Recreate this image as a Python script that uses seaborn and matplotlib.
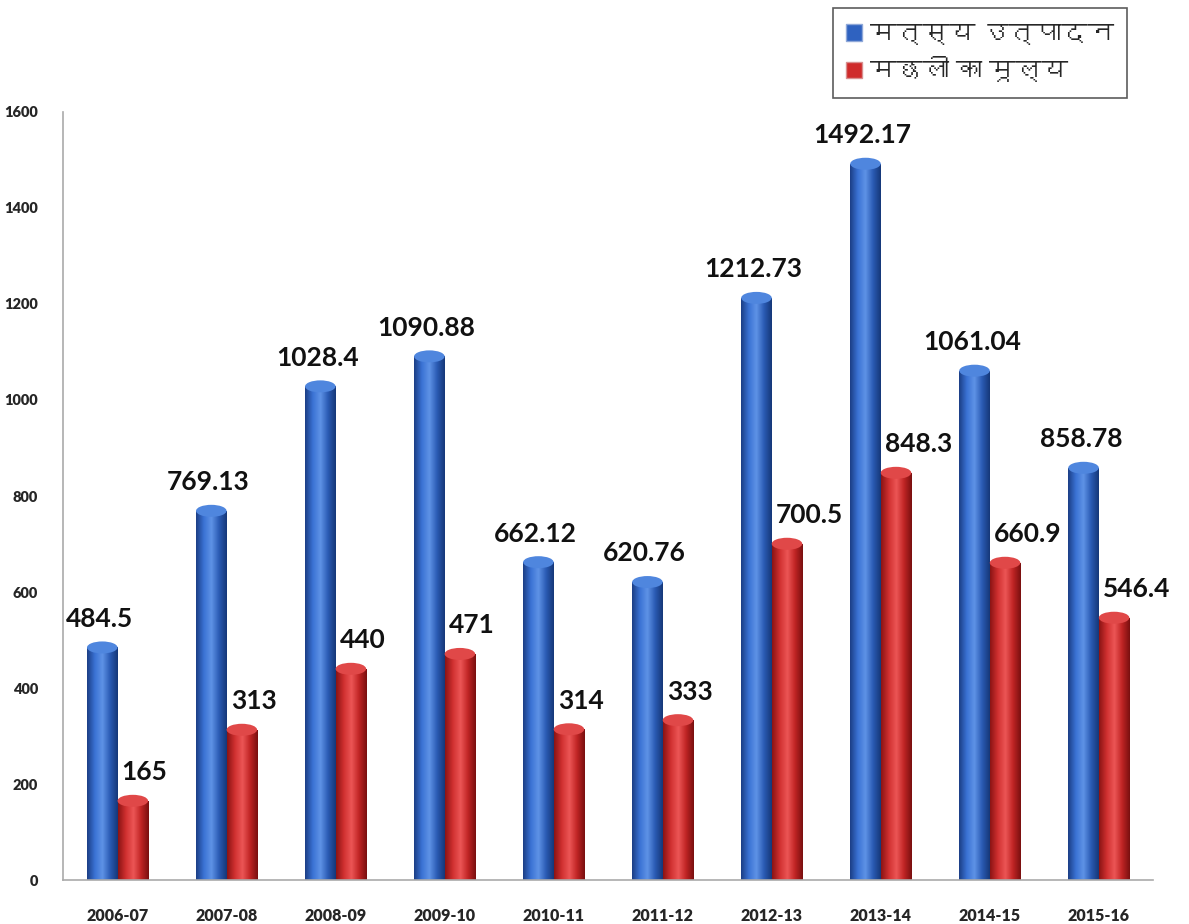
import numpy as np
import pandas as pd
import matplotlib
matplotlib.use("Agg")
import matplotlib.pyplot as plt
import seaborn as sns
from matplotlib import font_manager
from matplotlib.ft2font import FT2Font
from matplotlib.patches import Patch, Ellipse
from matplotlib.colors import LinearSegmentedColormap

# ---------------- data ----------------
years = ['2006-07', '2007-08', '2008-09', '2009-10', '2010-11',
         '2011-12', '2012-13', '2013-14', '2014-15', '2015-16']
production = [484.5, 769.13, 1028.4, 1090.88, 662.12, 620.76, 1212.73, 1492.17, 1061.04, 858.78]
fish_value = [165, 313, 440, 471, 314, 333, 700.5, 848.3, 660.9, 546.4]
series_names = ['मत्स्य उत्पादन', 'मछली का मूल्य']
y_ticks = [0, 200, 400, 600, 800, 1000, 1200, 1400, 1600]

# ---------------- fonts ----------------
sns.set_theme(style="white")
dev_family = None
for f in font_manager.fontManager.ttflist:
    try:
        if 0x092E in FT2Font(f.fname).get_charmap():
            dev_family = f.name
            break
    except Exception:
        pass
fams = ['Lato'] + ([dev_family] if dev_family else []) + ['DejaVu Sans']
plt.rcParams['font.family'] = fams

df = pd.DataFrame({
    'year': years * 2,
    'val': production + fish_value,
    'series': [series_names[0]] * len(years) + [series_names[1]] * len(years),
})

colors = ['#2f62c0', '#cf2a2a']
fig = plt.figure(figsize=(11.89, 9.24), dpi=100)
ax = fig.add_axes([0.053, 0.0476, 0.917, 0.8312])
sns.barplot(data=df, x='year', y='val', hue='series', palette=colors,
            width=0.56, ax=ax, legend=False, saturation=1, edgecolor='none')

ax.set_xlim(-0.5, len(years) - 0.5)
ax.set_ylim(0, 1600)
ax.set_yticks(y_ticks)
ax.set_yticklabels([str(t) for t in y_ticks], fontsize=10.5, fontweight='heavy')
ax.set_xlabel('')
ax.set_ylabel('')
ax.tick_params(axis='x', which='major', length=0, pad=20, labelsize=11.5)
for lab in ax.get_xticklabels():
    lab.set_fontweight('heavy')
ax.set_xticks(np.arange(-0.5, len(years)), minor=True)
ax.tick_params(axis='x', which='minor', length=7, color='#999999', width=1, direction='out')
ax.tick_params(axis='y', length=4, color='#999999', direction='out', pad=14)
for s in ['top', 'right']:
    ax.spines[s].set_visible(False)
for s in ['left', 'bottom']:
    ax.spines[s].set_color('#aaaaaa')
    ax.spines[s].set_linewidth(1.2)

# cylinder-like shading
fig.canvas.draw()
px_per_unit = ax.bbox.height / 1600.0
ell_h = 12 / px_per_unit
cmaps = [
    LinearSegmentedColormap.from_list('b', ['#1c3f86', '#3a72d4', '#5f93e6', '#2a5bb4', '#163879']),
    LinearSegmentedColormap.from_list('r', ['#8c1414', '#d03030', '#ec5656', '#c02424', '#7a1010']),
]
tops = ['#4f86de', '#e04848']
grad = np.linspace(0, 1, 64).reshape(1, -1)
for ci, cont in enumerate(ax.containers):
    for bar in cont:
        x0, w, h = bar.get_x(), bar.get_width(), bar.get_height()
        im = ax.imshow(grad, cmap=cmaps[ci], extent=[x0, x0 + w, 0, h],
                       aspect='auto', zorder=bar.get_zorder() + 0.1)
        im.set_clip_path(bar)
        ax.add_patch(Ellipse((x0 + w / 2, h), w, ell_h, facecolor=tops[ci],
                             edgecolor='none', zorder=bar.get_zorder() + 0.2))

# value labels
for ci, cont in enumerate(ax.containers):
    vals = production if ci == 0 else fish_value
    for bar, v in zip(cont, vals):
        x0, w = bar.get_x(), bar.get_width()
        if ci == 0:
            ax.annotate(f"{v:g}", (x0 + w / 2, v), xytext=(-2, 12), textcoords='offset points',
                        ha='center', va='bottom', fontsize=19, fontweight='bold', color='#111111',
                        zorder=10)
        else:
            ax.annotate(f"{v:g}", (x0, v), xytext=(3, 12), textcoords='offset points',
                        ha='left', va='bottom', fontsize=19, fontweight='bold', color='#111111',
                        zorder=10)

ax.set_xlim(-0.5, len(years) - 0.5)
ax.set_ylim(0, 1600)

handles = [Patch(facecolor=colors[0], edgecolor='#8fa8d8'),
           Patch(facecolor=colors[1], edgecolor='#d88f8f')]
leg = fig.legend(handles, series_names, loc='upper right', bbox_to_anchor=(0.948, 0.991),
                 borderaxespad=0, fontsize=19, frameon=True, fancybox=False,
                 handlelength=0.6, handleheight=0.6,
                 handletextpad=0.3, borderpad=0.5, labelspacing=0.45)
leg.get_frame().set_edgecolor('#333333')
leg.get_frame().set_linewidth(1.2)

fig.savefig('out.png', dpi=100)
